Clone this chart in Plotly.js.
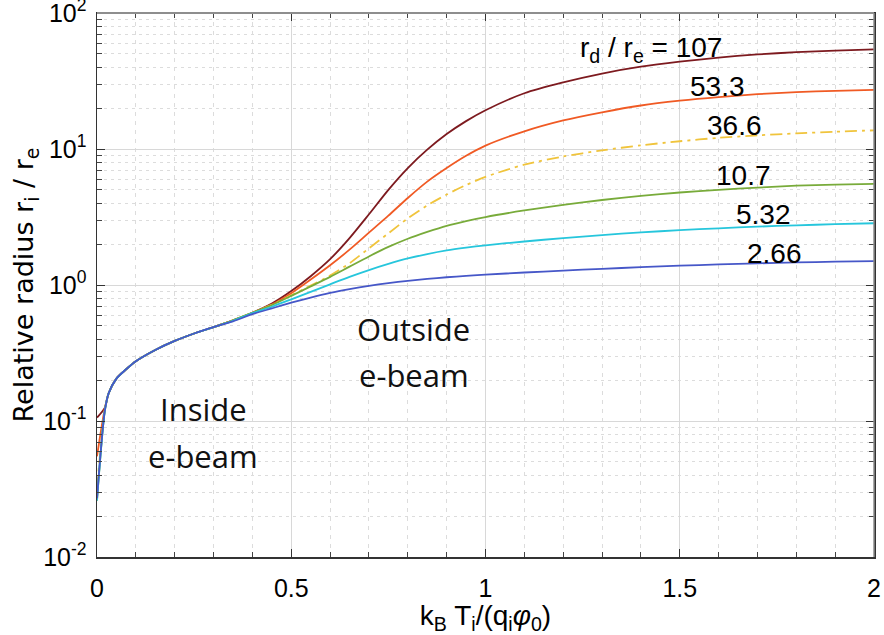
<!DOCTYPE html>
<html><head><meta charset="utf-8">
<script src="https://cdn.plot.ly/plotly-3.0.1.min.js"></script>
<style>body{margin:0;background:#fff}#chart{width:884px;height:635px}</style>
</head><body><div id="chart"></div>
<script>
// x = k_B T_i / (q_i phi_0)
const xVals = [0, 0.02, 0.03, 0.05, 0.075, 0.1, 0.15, 0.2, 0.25, 0.3, 0.35, 0.4, 0.45, 0.5, 0.55, 0.6, 0.65, 0.7, 0.75, 0.8, 0.85, 0.9, 0.95, 1.0, 1.1, 1.2, 1.3, 1.4, 1.5, 1.6, 1.7, 1.8, 1.9, 2.0];
// relative radius r_i / r_e for each r_d / r_e
const r107 = [0.106, 0.125, 0.16, 0.205, 0.24, 0.275, 0.333, 0.388, 0.44, 0.49, 0.55, 0.625, 0.73, 0.902, 1.161, 1.549, 2.213, 3.311, 5.012, 7.244, 9.886, 12.88, 16.03, 19.28, 25.70, 30.90, 35.89, 40.27, 43.85, 46.99, 49.55, 51.52, 52.97, 53.95];
const r53  = [0.055, 0.123, 0.16, 0.205, 0.24, 0.275, 0.333, 0.388, 0.44, 0.49, 0.55, 0.625, 0.719, 0.871, 1.096, 1.396, 1.82, 2.427, 3.236, 4.365, 5.754, 7.244, 8.913, 10.59, 13.49, 16.22, 18.62, 20.89, 22.65, 24.10, 25.29, 26.18, 26.79, 27.23];
const r36  = [0.032, 0.12, 0.16, 0.205, 0.24, 0.275, 0.333, 0.388, 0.44, 0.49, 0.55, 0.625, 0.714, 0.841, 0.989, 1.175, 1.445, 1.862, 2.399, 3.09, 3.846, 4.624, 5.433, 6.237, 7.674, 8.81, 9.772, 10.64, 11.40, 12.08, 12.59, 13.03, 13.40, 13.71];
const r10  = [0.026, 0.118, 0.16, 0.205, 0.24, 0.275, 0.333, 0.388, 0.44, 0.49, 0.55, 0.625, 0.713, 0.832, 0.977, 1.148, 1.365, 1.622, 1.905, 2.188, 2.455, 2.723, 2.951, 3.162, 3.532, 3.89, 4.217, 4.519, 4.786, 5.012, 5.2, 5.37, 5.47, 5.546];
const r5   = [0.026, 0.118, 0.16, 0.205, 0.24, 0.275, 0.333, 0.388, 0.44, 0.49, 0.545, 0.621, 0.692, 0.785, 0.891, 1.012, 1.148, 1.288, 1.429, 1.567, 1.690, 1.799, 1.884, 1.959, 2.089, 2.213, 2.328, 2.438, 2.529, 2.612, 2.685, 2.748, 2.799, 2.844];
const r2   = [0.027, 0.118, 0.16, 0.205, 0.24, 0.275, 0.333, 0.388, 0.44, 0.49, 0.54, 0.61, 0.673, 0.741, 0.809, 0.875, 0.933, 0.986, 1.033, 1.074, 1.109, 1.140, 1.167, 1.191, 1.236, 1.276, 1.315, 1.352, 1.387, 1.416, 1.442, 1.466, 1.483, 1.5];

const seriesNames = ['107', '53.3', '36.6', '10.7', '5.32', '2.66'];
const seriesData = [r107, r53, r36, r10, r5, r2];
const seriesColors = ['#7d1a1f', '#f05a24', '#f0c43c', '#78ab3a', '#26c6dc', '#4657c8'];
const seriesDash = ['solid', 'solid', '12px,5px,3px,5px', 'solid', 'solid', 'solid'];

const labelText = ['r<sub>d</sub> / r<sub>e</sub> = 107', '53.3', '36.6', '10.7', '5.32', '2.66'];
const labelX = [1.426, 1.596, 1.64, 1.665, 1.716, 1.745];
const labelY = [54, 29, 15.0, 6.35, 3.32, 1.7];

const xTickVals = [0, 0.5, 1, 1.5, 2];
const xTickText = ['0', '0.5', '1', '1.5', '2'];
const yTickVals = [0.01, 0.1, 1, 10, 100];
const yTickText = ['10<sup>-2</sup>', '10<sup>-1</sup>', '10<sup>0</sup>', '10<sup>1</sup>', '10<sup>2</sup>'];
const yMinorVals = [];
[0.01, 0.1, 1, 10].forEach(d => { for (let k = 2; k <= 9; k++) yMinorVals.push(d * k); });

const regionText = ['Inside', 'e-beam', 'Outside', 'e-beam'];
const regionX = [0.274, 0.274, 0.815, 0.815];
const regionY = [0.1225, 0.0553, 0.477, 0.218];

const traces = seriesData.map((ys, i) => ({
  x: xVals, y: ys, type: 'scatter', mode: 'lines', name: seriesNames[i],
  line: {color: seriesColors[i], width: 1.8, dash: seriesDash[i], shape: 'spline', smoothing: 0.8},
  hoverinfo: 'skip'
}));

const annotations = [];
labelText.forEach((t, i) => annotations.push({
  x: labelX[i], y: Math.log10(labelY[i]), xref: 'x', yref: 'y', text: t, showarrow: false,
  xanchor: 'center', yanchor: 'middle', font: {family: 'Liberation Sans, Arial, sans-serif', size: 28, color: '#000'}
}));
regionText.forEach((t, i) => annotations.push({
  x: regionX[i], y: Math.log10(regionY[i]), xref: 'x', yref: 'y', text: t, showarrow: false,
  xanchor: 'center', yanchor: 'middle', font: {family: 'Open Sans, sans-serif', size: 31, color: '#111'}
}));

const layout = {
  width: 884, height: 635,
  margin: {l: 97, r: 10, t: 13, b: 78},
  paper_bgcolor: '#fff', plot_bgcolor: '#fff',
  showlegend: false,
  font: {family: 'Liberation Sans, Arial, sans-serif', color: '#000'},
  xaxis: {
    range: [0, 2], tickmode: 'array', tickvals: xTickVals, ticktext: xTickText,
    tickfont: {size: 25, color: '#000'}, ticklabeloverflow: 'allow',
    showgrid: true, gridcolor: '#d8d8d8', gridwidth: 1, zeroline: false,
    showline: true, linecolor: '#333', linewidth: 1.5, mirror: 'ticks',
    ticks: 'inside', ticklen: 8, tickcolor: '#333', tickwidth: 1, ticklabelstandoff: 8,
    minor: {dtick: 0.1, tick0: 0, showgrid: true, gridcolor: '#dcdcdc', griddash: '4px,5px', gridwidth: 1, ticks: 'inside', ticklen: 5, tickcolor: '#444'},
    title: {text: 'k<sub>B</sub> T<sub>i</sub>/(q<sub>i</sub><i>φ</i><sub>0</sub>)', font: {size: 28, color: '#000'}, standoff: 2}
  },
  yaxis: {
    type: 'log', range: [-2, 2], tickmode: 'array', tickvals: yTickVals, ticktext: yTickText,
    tickfont: {size: 25, color: '#000'}, ticklabeloverflow: 'allow',
    showgrid: true, gridcolor: '#d8d8d8', gridwidth: 1, zeroline: false,
    showline: true, linecolor: '#333', linewidth: 1.5, mirror: 'ticks',
    ticks: 'inside', ticklen: 8, tickcolor: '#333', tickwidth: 1, ticklabelstandoff: 4,
    minor: {tickmode: 'array', tickvals: yMinorVals, showgrid: true, gridcolor: '#dcdcdc', griddash: '3px,4px', gridwidth: 1, ticks: 'inside', ticklen: 5, tickcolor: '#444'},
    title: {text: 'Relative radius r<sub>i</sub> / r<sub>e</sub>', font: {family: 'DejaVu Sans, sans-serif', size: 27, color: '#000'}, standoff: 0}
  },
  shapes: [
    {type: 'line', xref: 'paper', yref: 'paper', x0: 0, x1: 1, y0: 1, y1: 1, line: {color: '#8e8e8e', width: 2}},
    {type: 'line', xref: 'paper', yref: 'paper', x0: 1, x1: 1, y0: 0, y1: 1, line: {color: '#8e8e8e', width: 1.5}}
  ],
  annotations: annotations
};

Plotly.newPlot('chart', traces, layout, {staticPlot: true, displayModeBar: false});
</script>
</body></html>
